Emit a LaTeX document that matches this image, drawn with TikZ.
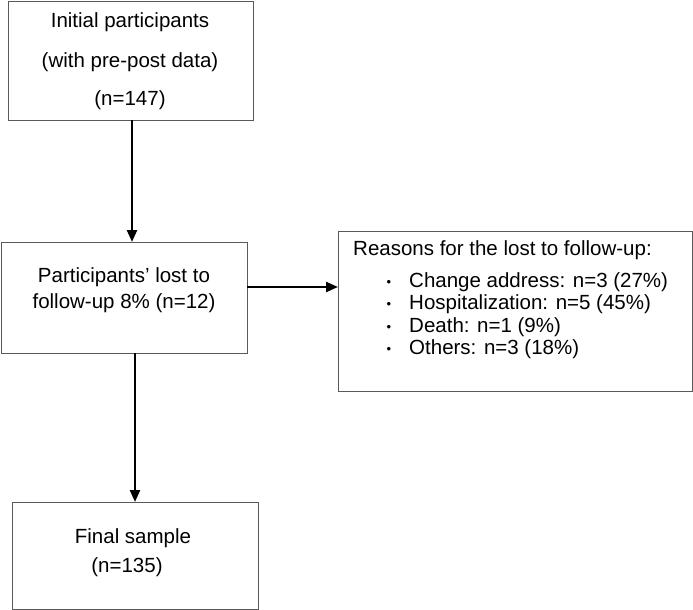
\documentclass[tikz,border=0pt]{standalone}
\usepackage{fontspec}
\setmainfont{Liberation Sans}
\usetikzlibrary{arrows.meta}
\tikzset{
  box/.style={draw=black!65, line width=1pt, rectangle, inner sep=0pt, outer sep=0pt},
  txt/.style={inner sep=0pt, font=\fontsize{20.5}{24}\selectfont, anchor=center},
  ltxt/.style={inner sep=0pt, font=\fontsize{20.5}{24}\selectfont, anchor=west},
  bul/.style={inner sep=0pt, font=\fontsize{13}{15}\selectfont, anchor=center},
  arr/.style={line width=2.3pt, -{Triangle[length=12pt,width=10pt]}}
}
\begin{document}
\begin{tikzpicture}[x=1pt,y=-1pt]
\useasboundingbox (0,0) rectangle (693,610);
% boxes
\node[box, minimum width=245pt, minimum height=118pt] (b1) at (130.5,61) {};
\node[box, minimum width=246pt, minimum height=111pt] (b2) at (124,297.5) {};
\node[box, minimum width=354pt, minimum height=160pt] (b3) at (515,311) {};
\node[box, minimum width=246pt, minimum height=107pt] (b4) at (135,555.5) {};
% texts
\node[txt] (t1a) at (130,22) {Initial participants};
\node[txt] (t1b) at (130,62) {(with pre-post data)};
\node[txt] (t1c) at (130,100) {(n=147)};
\node[txt] (t2a) at (124,277) {Participants’ lost to};
\node[txt] (t2b) at (124,303) {follow-up 8\% (n=12)};
\node[ltxt] (t3) at (353,250) {Reasons for the lost to follow-up:};
\node[bul] (u1) at (389,283) {\textbullet};
\node[bul] (u2) at (389,305.5) {\textbullet};
\node[bul] (u3) at (389,328) {\textbullet};
\node[bul] (u4) at (389,350.5) {\textbullet};
\node[ltxt] (i1) at (409,282) {Change address: n=3 (27\%)};
\node[ltxt] (i2) at (409,304.5) {Hospitalization: n=5 (45\%)};
\node[ltxt] (i3) at (409,327) {Death: n=1 (9\%)};
\node[ltxt] (i4) at (409,349.5) {Others: n=3 (18\%)};
\node[txt] (t4a) at (133,538) {Final sample};
\node[txt] (t4b) at (127,567) {(n=135)};
% connectors
\coordinate (c1) at (132,0);
\coordinate (c2) at (0,287);
\coordinate (c3) at (135,0);
\draw[arr] (b1.south -| c1) -- (b2.north -| c1);
\draw[arr] (b2.east |- c2) -- (b3.west |- c2);
\draw[arr] (b2.south -| c3) -- (b4.north -| c3);
\end{tikzpicture}
\end{document}
